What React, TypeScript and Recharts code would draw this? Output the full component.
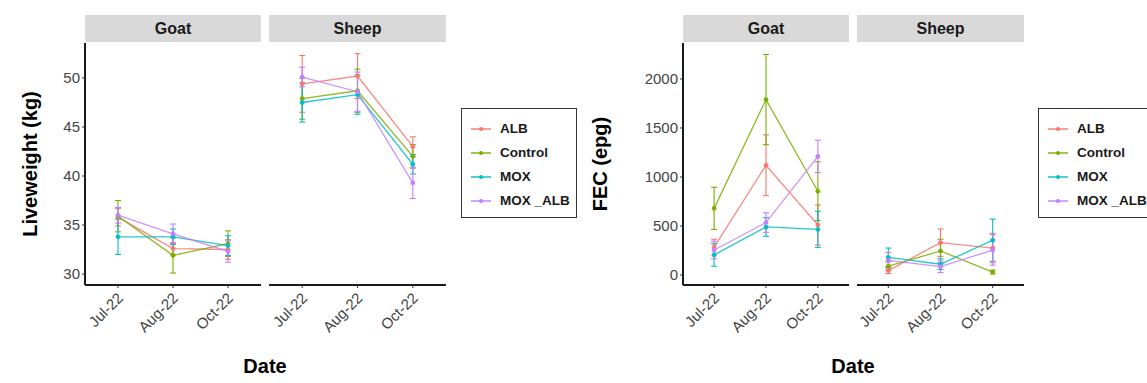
import React from 'react';
import { LineChart, Line, XAxis, YAxis, ErrorBar } from 'recharts';

const FONT = '"Liberation Sans", Arial, sans-serif';

const dates = ['Jul-22', 'Aug-22', 'Oct-22'];
const groups = ['ALB', 'Control', 'MOX', 'MOX _ALB'];
const groupKeys = ['ALB', 'Control', 'MOX', 'MOX_ALB'];
const colors = ['#F8766D', '#7CAE00', '#00BFC4', '#C77CFF'];

// Liveweight (kg), mean and error, per group: ALB, Control, MOX, MOX_ALB
const lwGoatMean = [
  [35.8, 32.6, 32.5],
  [35.9, 31.9, 33.1],
  [33.8, 33.8, 32.9],
  [36.0, 34.1, 32.3],
];
const lwGoatErr = [
  [0.9, 0.6, 1.0],
  [1.6, 1.8, 1.3],
  [1.8, 0.8, 1.0],
  [0.8, 1.0, 1.1],
];
const lwSheepMean = [
  [49.4, 50.2, 43.0],
  [47.9, 48.7, 42.0],
  [47.5, 48.3, 41.2],
  [50.1, 48.6, 39.3],
];
const lwSheepErr = [
  [2.9, 2.3, 1.0],
  [2.1, 2.2, 1.2],
  [2.0, 2.0, 1.0],
  [1.0, 2.0, 1.6],
];

// FEC (epg)
const fecGoatMean = [
  [285, 1120, 510],
  [680, 1790, 855],
  [205, 490, 465],
  [255, 535, 1210],
];
const fecGoatErr = [
  [80, 310, 205],
  [215, 460, 300],
  [115, 95, 185],
  [90, 100, 165],
];
const fecSheepMean = [
  [45, 330, 275],
  [90, 245, 30],
  [180, 110, 355],
  [150, 85, 255],
];
const fecSheepErr = [
  [30, 140, 150],
  [45, 120, 20],
  [95, 55, 215],
  [80, 60, 155],
];

const lwTicks = [30, 35, 40, 45, 50];
const fecTicks = [0, 500, 1000, 1500, 2000];

function buildRows(means: number[][], errs: number[][]) {
  return dates.map((d, i) => {
    const row: any = { x: i, date: d };
    groupKeys.forEach((k, g) => {
      row[k] = means[g][i];
      row[k + 'Err'] = errs[g][i];
    });
    return row;
  });
}

const DateTick = (props: any) => {
  const { x, y, payload } = props;
  const bx = x + 6;
  const by = y + 9;
  return (
    <text x={bx} y={by} transform={`rotate(-45 ${bx} ${by})`} textAnchor="end"
      fontSize={15} fill="#444" fontFamily={FONT}>
      {dates[payload.value]}
    </text>
  );
};

interface FacetProps {
  left: number;
  axisW: number;
  plotW: number;
  domain: [number, number];
  ticks: number[];
  data: any[];
  strip: string;
  showY: boolean;
}

function Facet({ left, axisW, plotW, domain, ticks, data, strip, showY }: FacetProps) {
  // hidden y axis takes no room, so keep the same offset as a margin instead
  const padL = showY ? 0 : axisW;
  return (
    <div style={{ position: 'absolute', left: left - axisW, top: 0 }}>
      <div style={{
        position: 'absolute', left: axisW, top: 15, width: plotW, height: 27, background: '#d9d9d9',
        fontFamily: FONT, fontWeight: 'bold', fontSize: 16, color: '#1a1a1a', textAlign: 'center', lineHeight: '27px',
      }}>{strip}</div>
      <LineChart width={axisW + plotW + 10} height={335} data={data} margin={{ top: 43, right: 10, bottom: 0, left: padL }}>
        <XAxis type="number" dataKey="x" domain={[-0.6, 2.6]} ticks={[0, 1, 2]} interval={0} allowDataOverflow
          height={50} tick={<DateTick />} tickSize={3} tickLine={{ stroke: '#333' }}
          axisLine={{ stroke: '#1a1a1a', strokeWidth: 2 }} />
        <YAxis type="number" hide={!showY} width={axisW} domain={domain} ticks={ticks} allowDataOverflow
          tickSize={3} tickMargin={2} tickLine={{ stroke: '#333' }} axisLine={{ stroke: '#1a1a1a', strokeWidth: 2 }}
          tick={{ fontSize: 15, fill: '#444', fontFamily: FONT }} />
        {groupKeys.map((k, g) => (
          <Line key={k} type="linear" dataKey={k} stroke={colors[g]} strokeWidth={1.3} strokeOpacity={0.85}
            dot={{ r: 2, fill: colors[g], stroke: colors[g], strokeWidth: 1 }} isAnimationActive={false}>
            <ErrorBar dataKey={k + 'Err'} direction="y" width={3} stroke={colors[g]} strokeWidth={1.1} />
          </Line>
        ))}
      </LineChart>
    </div>
  );
}

function LegendBox({ left }: { left: number }) {
  return (
    <div style={{
      position: 'absolute', left, top: 108, width: 116, height: 110, border: '1.5px solid #333',
      boxSizing: 'border-box', background: '#fff',
    }}>
      {groups.map((g, i) => (
        <div key={g} style={{ position: 'absolute', left: 0, top: 10 + i * 24, height: 20, width: 140 }}>
          <svg width={24} height={20} style={{ position: 'absolute', left: 7, top: 0 }}>
            <line x1={2} y1={10} x2={22} y2={10} stroke={colors[i]} strokeWidth={1.4} />
            <circle cx={12} cy={10} r={2} fill={colors[i]} />
          </svg>
          <span style={{
            position: 'absolute', left: 38, top: 0, lineHeight: '20px', fontFamily: FONT,
            fontWeight: 'bold', fontSize: 13.5, color: '#1a1a1a', whiteSpace: 'nowrap',
          }}>{g}</span>
        </div>
      ))}
    </div>
  );
}

function YTitle({ text, cx }: { text: string; cx: number }) {
  return (
    <div style={{
      position: 'absolute', left: cx - 150, top: 164 - 13, width: 300, height: 26, textAlign: 'center',
      transform: 'rotate(-90deg)', fontFamily: FONT, fontWeight: 'bold', fontSize: 20, lineHeight: '26px', color: '#000',
    }}>{text}</div>
  );
}

function XTitle({ cx }: { cx: number }) {
  return (
    <div style={{
      position: 'absolute', left: cx - 100, top: 353, width: 200, textAlign: 'center',
      fontFamily: FONT, fontWeight: 'bold', fontSize: 20, lineHeight: '26px', color: '#000',
    }}>Date</div>
  );
}

export default function App() {
  const lwGoat = buildRows(lwGoatMean, lwGoatErr);
  const lwSheep = buildRows(lwSheepMean, lwSheepErr);
  const fecGoat = buildRows(fecGoatMean, fecGoatErr);
  const fecSheep = buildRows(fecSheepMean, fecSheepErr);
  const lwDomain: [number, number] = [28.88, 53.57];
  const fecDomain: [number, number] = [-102, 2367];

  return (
    <div style={{ position: 'absolute', left: 0, top: 0, width: 1147, height: 383, background: '#fff', overflow: 'hidden' }}>
      <YTitle text="Liveweight (kg)" cx={30} />
      <Facet left={85} axisW={85} plotW={176} domain={lwDomain} ticks={lwTicks} data={lwGoat} strip="Goat" showY />
      <Facet left={269} axisW={30} plotW={177} domain={lwDomain} ticks={lwTicks} data={lwSheep} strip="Sheep" showY={false} />
      <XTitle cx={265} />
      <LegendBox left={461} />

      <YTitle text="FEC (epg)" cx={600} />
      <Facet left={683} axisW={63} plotW={166} domain={fecDomain} ticks={fecTicks} data={fecGoat} strip="Goat" showY />
      <Facet left={857} axisW={30} plotW={167} domain={fecDomain} ticks={fecTicks} data={fecSheep} strip="Sheep" showY={false} />
      <XTitle cx={853} />
      <LegendBox left={1038} />
    </div>
  );
}
